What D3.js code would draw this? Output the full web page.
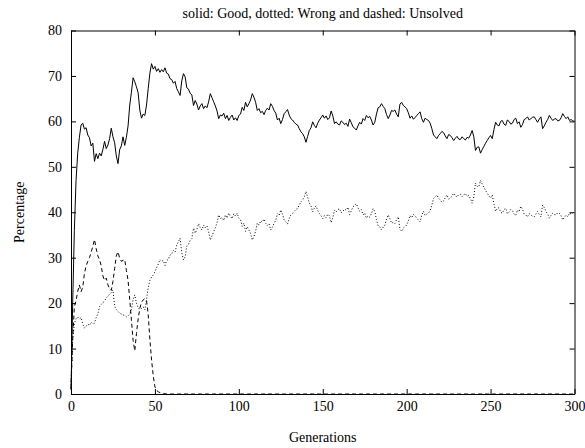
<!DOCTYPE html>
<html>
<head>
<meta charset="utf-8">
<script src="https://cdn.jsdelivr.net/npm/d3@7"></script>
<style>
  html, body { margin: 0; padding: 0; background: #fff; }
  svg { display: block; }
  text { font-family: "Liberation Serif", "Times New Roman", serif; fill: #000; }
</style>
</head>
<body>
<svg id="chart" width="585" height="448"></svg>
<script>
// Percentage of good, wrong and unsolved individuals per generation
const generations = d3.range(0, 301);

const good = [
  1, 20, 36, 47, 53, 56.5, 59.2, 59.6, 58.3, 58.6,
  57, 56.4, 54.6, 55.2, 51.2, 52.9, 51.8, 53, 52.4, 53.8,
  55.6, 54, 54.8, 56.2, 58.5, 56.6, 55.3, 52.4, 50.7, 53.8,
  54.6, 56.6, 54.7, 56.5, 59, 63.6, 66.4, 69.6, 68.7, 67.6,
  66.3, 62.5, 60.7, 61.6, 61.3, 63.6, 67.2, 70.6, 72.7, 71.5,
  72.1, 71, 71.6, 70.8, 71.4, 70.9, 71.8, 70.6, 70.4, 69.4,
  69.2, 68.4, 68.8, 67.2, 66.5, 65.7, 68.9, 70.5, 69.8, 67.4,
  67.1, 66.2, 65.8, 63.5, 64.6, 63.8, 62.5, 63.4, 63.9, 62.8,
  63.4, 63, 64.3, 66.1, 65.2, 64.3, 63.4, 62.3, 60.6, 61.4,
  61.2, 61.8, 60.6, 61.3, 60.2, 60.9, 61.4, 60.3, 60.8, 60.2,
  61.3, 61.6, 63.1, 62.4, 64.2, 63.2, 63.9, 64.7, 66.1, 65.3,
  64.2, 62.4, 62.8, 61.9, 62.2, 61.5, 62.4, 62.9, 62.5, 63.9,
  63.3, 62.4, 61.8, 60.3, 60.7, 59.5, 60.4, 61.7, 62.1, 62.6,
  61.4, 60.6, 60.3, 59.8, 59.4, 59.2, 58.4, 57.7, 57.3, 56.6,
  55.4, 56.7, 58, 58.6, 59.9, 59.1, 58.6, 59.6, 60.3, 60.8,
  61.4, 60.7, 61.2, 60.4, 60.8, 62.3, 61.2, 59.5, 59.9, 59.4,
  59.2, 60.1, 59.8, 59.3, 59.6, 58.9, 60.5, 59.7, 58.8, 58.5,
  58.1, 59, 59.8, 59.4, 60.6, 60.2, 61.3, 60.8, 61.1, 60.3,
  59.2, 59.8, 61.6, 63, 63.2, 63.9, 63.3, 62.8, 61.5, 60.6,
  61.4, 62.4, 62.2, 62.5, 61.6, 61, 63.8, 64.2, 63.5, 63.2,
  62.8, 61.9, 60.7, 61.2, 60.5, 60.8, 61.3, 61.7, 62.1, 60.6,
  59.8, 60.7, 60.4, 60.2, 59.6, 58.4, 57, 56.6, 56.2, 56.9,
  57.3, 57.8, 57.5, 56.8, 56.2, 57.1, 56.9, 56.4, 55.8, 56.3,
  56.7, 56.1, 56, 56.6, 56.2, 55.9, 56.5, 56.3, 57, 58,
  56.6, 53.6, 54.3, 54.4, 53, 53.8, 54.5, 55.2, 55.8, 56.4,
  56.9, 56.2, 58.2, 59.8, 59.2, 59, 60, 60.2, 59.4, 59.1,
  60.3, 60, 59.4, 59.6, 60.4, 60.7, 59.5, 59.9, 58.7, 59.3,
  60.4, 60.6, 61, 60.3, 60.6, 60.9, 61, 60.4, 59.8, 60.5,
  61, 58.4, 59, 59.8, 60.4, 61.3, 60.7, 60.2, 60.5, 60.6,
  60.1, 60.2, 60.8, 61.7, 61.1, 60.6, 61, 60.2, 60.4, 60.1,
  60
];

const wrong = [
  2, 12, 15.5, 16.6, 16.9, 16.5, 16.8, 15.4, 14.5, 14.9,
  15.4, 15.1, 15.8, 15.4, 15.6, 16.8, 17.6, 19.2, 19.7, 20.1,
  20.4, 21.2, 21.5, 22, 22.3, 22.9, 19.3, 18.6, 18.2, 17.8,
  17.6, 17.4, 17.3, 17, 17.2, 17.6, 18.6, 20.8, 21.8, 20,
  19, 18.6, 18.8, 19.2, 18.5, 20.8, 23.4, 25, 25.7, 26.2,
  26.9, 27.8, 28.6, 29.6, 29.2, 29.4, 28.3, 29.4, 29.6, 30.6,
  30.8, 31.6, 31.2, 32.8, 33.5, 34.3, 31.1, 29.5, 30.2, 32.6,
  32.9, 33.8, 34.2, 36.5, 35.4, 36.2, 37.5, 36.6, 36.1, 37.2,
  36.6, 37, 35.7, 33.9, 34.8, 35.7, 36.6, 37.7, 39.4, 38.6,
  38.8, 38.2, 39.4, 38.7, 39.8, 39.1, 38.6, 39.7, 39.2, 39.8,
  38.7, 38.4, 36.9, 37.6, 35.8, 36.8, 36.1, 35.3, 33.9, 34.7,
  35.8, 37.6, 37.2, 38.1, 37.8, 38.5, 37.6, 37.1, 37.5, 36.1,
  36.7, 37.6, 38.2, 39.7, 39.3, 40.5, 39.6, 38.3, 37.9, 37.4,
  38.6, 39.4, 39.7, 40.2, 40.6, 40.8, 41.6, 42.3, 42.7, 43.4,
  44.6, 43.3, 42, 41.4, 40.1, 40.9, 41.4, 40.4, 39.7, 39.2,
  38.6, 39.3, 38.8, 39.6, 39.2, 37.7, 38.8, 40.5, 40.1, 40.6,
  40.8, 39.9, 40.2, 40.7, 40.4, 41.1, 39.5, 40.3, 41.2, 41.5,
  41.9, 41, 40.2, 40.6, 39.4, 39.8, 38.7, 39.2, 38.9, 39.7,
  40.8, 40.2, 38.4, 37, 36.8, 36.1, 36.7, 37.2, 38.5, 39.4,
  38.6, 37.6, 37.8, 37.5, 38.4, 39, 36.2, 35.8, 36.5, 36.8,
  37.2, 38.1, 39.3, 38.8, 39.5, 39.2, 38.7, 38.3, 37.9, 39.4,
  40.2, 39.3, 39.6, 39.8, 40.4, 41.6, 43, 43.4, 43.8, 43.1,
  42.7, 42.2, 42.5, 43.2, 43.8, 42.9, 43.1, 43.6, 44.2, 43.7,
  43.3, 43.9, 44, 43.4, 43.8, 44.1, 43.5, 43.7, 43, 42,
  43.4, 46.4, 45.7, 45.6, 47, 46.2, 45.5, 44.8, 44.2, 43.6,
  43.1, 43.8, 41.8, 40.2, 40.8, 41, 40, 39.8, 40.6, 40.9,
  39.7, 40, 40.6, 40.4, 39.6, 39.3, 40.5, 40.1, 41.3, 40.7,
  39.6, 39.4, 39, 39.7, 39.4, 39.1, 39, 39.6, 40.2, 39.5,
  39, 41.6, 41, 40.2, 39.6, 38.7, 39.3, 39.8, 39.5, 39.4,
  39.9, 39.8, 39.2, 38.3, 38.9, 39.4, 39, 39.8, 39.6, 39.9,
  40
];

const unsolved = [
  1, 12, 19.2, 20.5, 22.6, 24, 22.5, 23.5, 26.5, 28.2,
  29.2, 30, 31.2, 32.5, 34, 32, 30.4, 29.6, 28.2, 26,
  25, 25.5, 24, 23.2, 22.8, 24.8, 27.6, 30.4, 31.3, 29.9,
  29.2, 29.4, 29.6, 27.2, 25, 20.8, 16.3, 11.8, 9.5, 13.3,
  16.5, 18.8, 20.2, 20.7, 21, 20.6, 17.5, 12, 7.5, 4,
  1.6, 0.8, 0.5, 0.3, 0.2, 0.1, 0.05, 0, 0, 0,
  0, 0, 0, 0, 0, 0, 0, 0, 0, 0,
  0, 0, 0, 0, 0, 0, 0, 0, 0, 0,
  0, 0, 0, 0, 0, 0, 0, 0, 0, 0,
  0, 0, 0, 0, 0, 0, 0, 0, 0, 0,
  0, 0, 0, 0, 0, 0, 0, 0, 0, 0,
  0, 0, 0, 0, 0, 0, 0, 0, 0, 0,
  0, 0, 0, 0, 0, 0, 0, 0, 0, 0,
  0, 0, 0, 0, 0, 0, 0, 0, 0, 0,
  0, 0, 0, 0, 0, 0, 0, 0, 0, 0,
  0, 0, 0, 0, 0, 0, 0, 0, 0, 0,
  0, 0, 0, 0, 0, 0, 0, 0, 0, 0,
  0, 0, 0, 0, 0, 0, 0, 0, 0, 0,
  0, 0, 0, 0, 0, 0, 0, 0, 0, 0,
  0, 0, 0, 0, 0, 0, 0, 0, 0, 0,
  0, 0, 0, 0, 0, 0, 0, 0, 0, 0,
  0, 0, 0, 0, 0, 0, 0, 0, 0, 0,
  0, 0, 0, 0, 0, 0, 0, 0, 0, 0,
  0, 0, 0, 0, 0, 0, 0, 0, 0, 0,
  0, 0, 0, 0, 0, 0, 0, 0, 0, 0,
  0, 0, 0, 0, 0, 0, 0, 0, 0, 0,
  0, 0, 0, 0, 0, 0, 0, 0, 0, 0,
  0, 0, 0, 0, 0, 0, 0, 0, 0, 0,
  0, 0, 0, 0, 0, 0, 0, 0, 0, 0,
  0, 0, 0, 0, 0, 0, 0, 0, 0, 0,
  0
];

const xTicks = [0, 50, 100, 150, 200, 250, 300];
const yTicks = [0, 10, 20, 30, 40, 50, 60, 70, 80];

const titleText = "solid: Good, dotted: Wrong and dashed: Unsolved";
const xLabel = "Generations";
const yLabel = "Percentage";

const svg = d3.select("#chart");
const plotLeft = 71, plotRight = 574.5, plotTop = 30.5, plotBottom = 394;
const fontSize = 14;
const serif = "Liberation Serif, Times New Roman, serif";

const x = d3.scaleLinear().domain([0, 300]).range([plotLeft, plotRight]);
const y = d3.scaleLinear().domain([0, 80]).range([plotBottom, plotTop]);

// series lines: dashed unsolved, dotted wrong, solid good
const series = [
  { values: unsolved, dash: "4 3", width: 1 },
  { values: wrong, dash: "1 2", width: 1 },
  { values: good, dash: null, width: 1 }
];

const line = d3.line()
  .x(d => x(d[0]))
  .y(d => y(d[1]));

const plot = svg.append("g");
series.forEach(s => {
  plot.append("path")
    .datum(generations.map((g, i) => [g, s.values[i]]))
    .attr("d", line)
    .attr("fill", "none")
    .attr("stroke", "#000")
    .attr("stroke-width", s.width)
    .attr("stroke-linejoin", "round")
    .attr("stroke-dasharray", s.dash);
});

// axes: box with inward ticks on all four sides
function styleAxis(g) {
  g.attr("font-family", serif).attr("font-size", fontSize);
  g.selectAll("path.domain").attr("stroke", "#000").attr("stroke-width", 1).attr("fill", "none");
  g.selectAll(".tick line").attr("stroke", "#000").attr("stroke-width", 1);
  g.selectAll("text").attr("fill", "#000");
}

svg.append("g")
  .attr("transform", `translate(0,${plotBottom})`)
  .call(d3.axisBottom(x).tickValues(xTicks).tickSizeInner(-5).tickSizeOuter(0).tickPadding(7))
  .call(styleAxis);

svg.append("g")
  .attr("transform", `translate(0,${plotTop})`)
  .call(d3.axisTop(x).tickValues(xTicks).tickSizeInner(-5).tickSizeOuter(0).tickFormat(""))
  .call(styleAxis);

svg.append("g")
  .attr("transform", `translate(${plotLeft},0)`)
  .call(d3.axisLeft(y).tickValues(yTicks).tickSizeInner(-5).tickSizeOuter(0).tickPadding(9))
  .call(styleAxis);

svg.append("g")
  .attr("transform", `translate(${plotRight},0)`)
  .call(d3.axisRight(y).tickValues(yTicks).tickSizeInner(-5).tickSizeOuter(0).tickFormat(""))
  .call(styleAxis);

// title and axis labels
svg.append("text")
  .attr("x", (plotLeft + plotRight) / 2)
  .attr("y", 18)
  .attr("text-anchor", "middle")
  .attr("font-size", fontSize)
  .text(titleText);

svg.append("text")
  .attr("x", (plotLeft + plotRight) / 2)
  .attr("y", 442)
  .attr("text-anchor", "middle")
  .attr("font-size", fontSize)
  .text(xLabel);

svg.append("text")
  .attr("transform", `translate(24,${(plotTop + plotBottom) / 2}) rotate(-90)`)
  .attr("text-anchor", "middle")
  .attr("font-size", fontSize)
  .text(yLabel);
</script>
</body>
</html>
